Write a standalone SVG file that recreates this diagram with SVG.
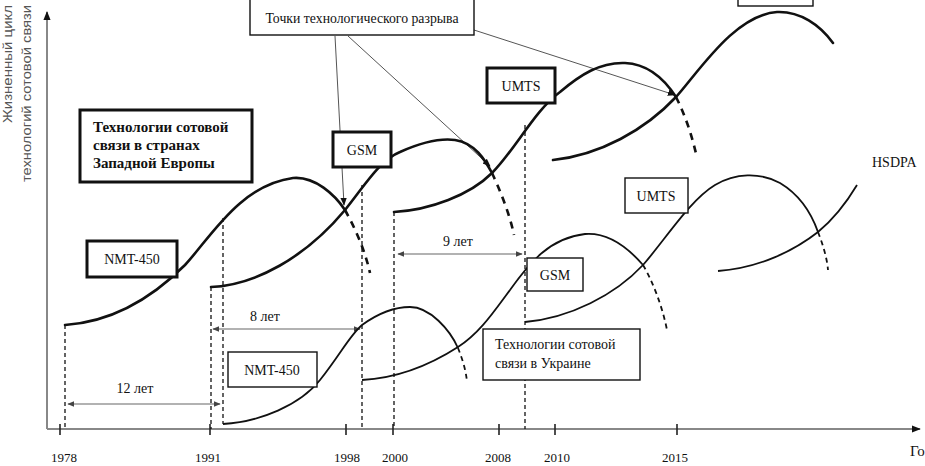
<svg xmlns="http://www.w3.org/2000/svg" width="925" height="466" viewBox="0 0 925 466" font-family="'Liberation Serif', 'DejaVu Serif', serif">
<style>
text{font-family:"Liberation Serif","DejaVu Serif",serif;fill:#111}
.ax{stroke:#888;stroke-width:2;fill:none}
.tick{stroke:#222;stroke-width:1.6}
.vd{stroke:#111;stroke-width:1.3;stroke-dasharray:4 3;fill:none}
.dim{stroke:#666;stroke-width:1.2;fill:none;marker-start:url(#ah);marker-end:url(#ah)}
.ptr{stroke:#555;stroke-width:1;fill:none;marker-end:url(#pa)}
.up{stroke:#111;stroke-width:2.6;fill:none;stroke-linecap:round}
.upd{stroke:#111;stroke-width:2.6;fill:none;stroke-dasharray:7 6}
.lo{stroke:#111;stroke-width:1.8;fill:none}
.lod{stroke:#111;stroke-width:1.8;fill:none;stroke-dasharray:5 4}
.bx{fill:#fff;stroke:#111;stroke-width:3}
.bt{fill:#fff;stroke:#111;stroke-width:1.4}
.lab{font-family:"Liberation Serif","DejaVu Serif",serif;font-size:14px;text-anchor:middle}
.yr{font-family:"Liberation Serif","DejaVu Serif",serif;font-size:13px;text-anchor:middle}
.tx{font-family:"Liberation Serif","DejaVu Serif",serif}
.yl{font-family:"Liberation Sans",Arial,sans-serif;fill:#555}
</style>
<defs>
<marker id="ah" viewBox="0 0 10 10" refX="9" refY="5" markerWidth="7" markerHeight="7" markerUnits="userSpaceOnUse" orient="auto-start-reverse"><path d="M0,1 L10,5 L0,9 Z" fill="#444"/></marker>
<marker id="pa" viewBox="0 0 10 10" refX="9" refY="5" markerWidth="8" markerHeight="8" markerUnits="userSpaceOnUse" orient="auto"><path d="M0,1 L10,5 L0,9 Z" fill="#111"/></marker>
<marker id="axh" viewBox="0 0 10 10" refX="9" refY="5" markerWidth="9" markerHeight="9" markerUnits="userSpaceOnUse" orient="auto"><path d="M0,1 L10,5 L0,9 Z" fill="#111"/></marker>
</defs>

<g id="axes">
<line class="ax" x1="47" y1="429" x2="47" y2="12" marker-end="url(#axh)"/>
<line class="ax" x1="47" y1="429" x2="920" y2="429" marker-end="url(#axh)"/>
<line class="tick" x1="60" y1="424" x2="60" y2="435"/>
<line class="tick" x1="210" y1="424" x2="210" y2="435"/>
<line class="tick" x1="346" y1="424" x2="346" y2="435"/>
<line class="tick" x1="393" y1="424" x2="393" y2="435"/>
<line class="tick" x1="499" y1="424" x2="499" y2="435"/>
<line class="tick" x1="555" y1="424" x2="555" y2="435"/>
<line class="tick" x1="677" y1="424" x2="677" y2="435"/>
<text class="yr" x="64" y="462">1978</text>
<text class="yr" x="208" y="462">1991</text>
<text class="yr" x="347" y="462">1998</text>
<text class="yr" x="395" y="462">2000</text>
<text class="yr" x="498" y="462">2008</text>
<text class="yr" x="557" y="462">2010</text>
<text class="yr" x="675" y="462">2015</text>
<text class="tx" x="910" y="456" font-size="15">Го</text>
<text class="yl" transform="translate(12,123) rotate(-90)" font-size="13" textLength="118" lengthAdjust="spacingAndGlyphs">Жизненный цикл</text>
<text class="yl" transform="translate(31,182) rotate(-90)" font-size="12" textLength="177" lengthAdjust="spacingAndGlyphs">технологий сотовой связи</text>
</g>

<g id="connectors">
<line class="vd" x1="65" y1="325" x2="65" y2="429"/>
<line class="vd" x1="211" y1="287" x2="211" y2="429"/>
<line class="vd" x1="223" y1="218" x2="223" y2="424"/>
<line class="vd" x1="362" y1="185" x2="362" y2="429"/>
<line class="vd" x1="394" y1="212" x2="394" y2="429"/>
<line class="vd" x1="525" y1="125" x2="525" y2="429"/>
<line class="dim" x1="68" y1="404" x2="220" y2="404"/>
<line class="dim" x1="213" y1="329" x2="360" y2="329"/>
<line class="dim" x1="398" y1="254" x2="522" y2="254"/>
<text class="lab" x="135" y="393">12 лет</text>
<text class="lab" x="265" y="321">8 лет</text>
<text class="lab" x="458" y="246">9 лет</text>
<line class="ptr" x1="335" y1="36" x2="344" y2="205"/>
<line class="ptr" x1="348" y1="36" x2="490" y2="166"/>
<line class="ptr" x1="474" y1="30" x2="675" y2="95"/>
<path class="up" d="M65,325 C110,322 150,300 185,265 C210,238 240,185 293,178 C315,176 335,195 345,210"/>
<path class="upd" d="M345,210 C355,228 365,250 370,273"/>
<path class="up" d="M211,287 C255,285 305,258 345,210 C365,185 380,160 400,152 C420,143 440,138 455,140 C475,143 485,160 492,173"/>
<path class="upd" d="M492,173 C500,190 510,215 514,235"/>
<path class="up" d="M394,212 C430,210 470,195 492,173 C515,150 535,110 560,92 C580,75 600,62 625,63 C648,64 665,80 676,97"/>
<path class="upd" d="M676,97 C685,115 692,135 697,158"/>
<path class="up" d="M553,160 C600,155 645,130 676,97 C700,70 735,15 777,12 C800,11 820,25 833,43"/>
<path class="lo" d="M223,424 C260,422 300,405 320,380 C340,355 350,335 362,325 C380,312 395,307 410,307 C430,307 450,330 458,348"/>
<path class="lod" d="M458,348 C462,358 466,370 467,382"/>
<path class="lo" d="M362,380 C400,378 430,365 458,347 C480,333 495,310 510,290 C530,262 550,238 585,234 C610,232 630,250 643,265"/>
<path class="lod" d="M643,265 C652,280 662,305 667,330"/>
<path class="lo" d="M525,322 C570,318 615,295 643,265 C665,240 690,200 715,185 C735,173 760,172 780,183 C800,195 812,215 818,232"/>
<path class="lod" d="M818,232 C823,245 827,258 828,270"/>
<path class="lo" d="M718,271 C760,268 795,250 818,232 C835,218 848,200 857,185"/>
</g>

<g id="breakpoints">
<rect class="bt" x="250" y="-2" width="224" height="37"/>
<text class="tx" x="362" y="23" font-size="14" text-anchor="middle" textLength="193" lengthAdjust="spacingAndGlyphs">Точки технологического разрыва</text>
</g>
<g id="europe-label">
<rect class="bx" x="80" y="110" width="172" height="72"/>
<text class="tx" x="93" y="132" font-size="15" font-weight="bold">Технологии сотовой</text>
<text class="tx" x="93" y="150" font-size="15" font-weight="bold">связи в странах</text>
<text class="tx" x="93" y="168" font-size="15" font-weight="bold">Западной Европы</text>
</g>
<g id="eu-nmt"><rect class="bx" x="87" y="241" width="90" height="36"/><text class="lab" x="132" y="264">NMT-450</text></g>
<g id="eu-gsm"><rect class="bx" x="333" y="132" width="58" height="35"/><text class="lab" x="362" y="155">GSM</text></g>
<g id="eu-umts"><rect class="bx" x="487" y="68" width="68" height="35"/><text class="lab" x="521" y="91">UMTS</text></g>
<g id="eu-top"><rect class="bt" x="738" y="-20" width="75" height="26"/></g>
<g id="ua-hsdpa"><text class="tx" x="872" y="167" font-size="14">HSDPA</text></g>
<g id="ua-nmt"><rect class="bt" x="228" y="352" width="89" height="35"/><text class="lab" x="272" y="375">NMT-450</text></g>
<g id="ua-gsm"><rect class="bt" x="527" y="258" width="56" height="33"/><text class="lab" x="555" y="280">GSM</text></g>
<g id="ua-umts"><rect class="bt" x="625" y="178" width="63" height="35"/><text class="lab" x="656" y="201">UMTS</text></g>
<g id="ukraine-label">
<rect class="bt" x="483" y="329" width="157" height="51"/>
<text class="tx" x="495" y="349" font-size="14">Технологии сотовой</text>
<text class="tx" x="495" y="368" font-size="14">связи в Украине</text>
</g>
</svg>
